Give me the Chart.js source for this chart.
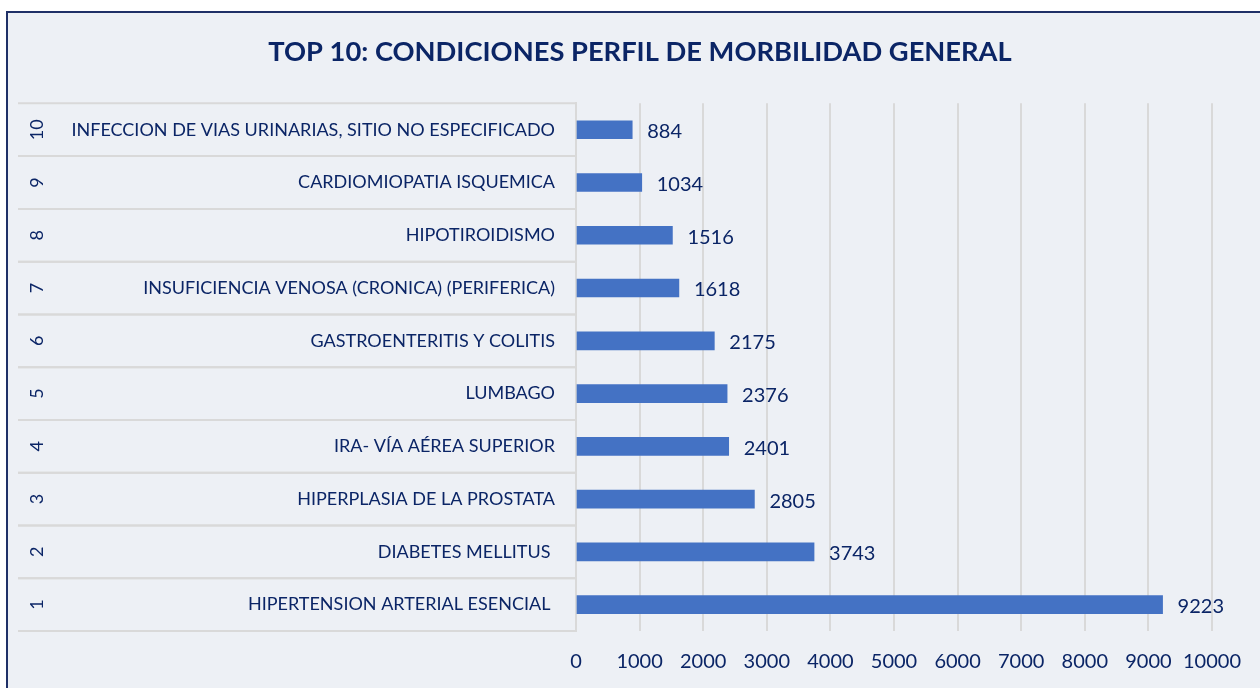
<!DOCTYPE html>
<html>
<head>
<meta charset="utf-8">
<script src="https://cdn.jsdelivr.net/npm/chart.js@4"></script>
<style>
  html, body { margin: 0; padding: 0; background: #fff; }
  #wrap { position: relative; width: 1260px; height: 688px; }
</style>
</head>
<body>
<div id="wrap"><canvas id="chart" width="1260" height="688"></canvas></div>
<script>
// Top 10 conditions, rank 1 at the bottom
const ranks = ['1', '2', '3', '4', '5', '6', '7', '8', '9', '10'];
const conditions = [
    'HIPERTENSION ARTERIAL ESENCIAL ',
    'DIABETES MELLITUS ',
    'HIPERPLASIA DE LA PROSTATA',
    'IRA- VÍA AÉREA SUPERIOR',
    'LUMBAGO',
    'GASTROENTERITIS Y COLITIS',
    'INSUFICIENCIA VENOSA (CRONICA) (PERIFERICA)',
    'HIPOTIROIDISMO',
    'CARDIOMIOPATIA ISQUEMICA',
    'INFECCION DE VIAS URINARIAS, SITIO NO ESPECIFICADO'
];
const cases = [9223, 3743, 2805, 2401, 2376, 2175, 1618, 1516, 1034, 884];

const NAVY = '#0B2566';
const FONT = 'Lato, "Open Sans", sans-serif';

// frame + background
const framePlugin = {
    id: 'frame',
    beforeDraw(chart) {
        const ctx = chart.ctx;
        ctx.save();
        ctx.fillStyle = '#EDF0F5';
        ctx.fillRect(7, 12, chart.width, chart.height);
        ctx.strokeStyle = '#1F3067';
        ctx.lineWidth = 2;
        ctx.strokeRect(7, 12, chart.width + 10, chart.height + 10);
        ctx.restore();
    }
};

// separators in the label area + rotated rank numbers
const rankPlugin = {
    id: 'ranks',
    afterDraw(chart) {
        const ctx = chart.ctx;
        const y = chart.scales.y;
        const left = chart.chartArea.left;
        const step = Math.abs(y.getPixelForValue(1) - y.getPixelForValue(0));
        ctx.save();
        ctx.strokeStyle = '#D9D9D9';
        ctx.lineWidth = 2;
        for (let i = 0; i < ranks.length; i++) {
            const cy = y.getPixelForValue(i);
            [cy - step / 2, cy + step / 2].forEach(ly => {
                ctx.beginPath();
                ctx.moveTo(18, ly);
                ctx.lineTo(left, ly);
                ctx.stroke();
            });
            ctx.save();
            ctx.translate(37, cy);
            ctx.rotate(-Math.PI / 2);
            ctx.fillStyle = NAVY;
            ctx.font = '18px ' + FONT;
            ctx.textAlign = 'center';
            ctx.textBaseline = 'middle';
            ctx.fillText(ranks[i], 0, 0);
            ctx.restore();
        }
        ctx.restore();
    }
};

// value labels at the bar ends
const valuePlugin = {
    id: 'values',
    afterDatasetsDraw(chart) {
        const ctx = chart.ctx;
        const meta = chart.getDatasetMeta(0);
        ctx.save();
        ctx.fillStyle = NAVY;
        ctx.font = '20px ' + FONT;
        ctx.textAlign = 'left';
        ctx.textBaseline = 'middle';
        meta.data.forEach((bar, i) => {
            ctx.fillText(String(cases[i]), bar.x + 15, bar.y + 2);
        });
        ctx.restore();
    }
};

new Chart(document.getElementById('chart').getContext('2d'), {
    type: 'bar',
    data: {
        labels: conditions,
        datasets: [{ data: cases, backgroundColor: '#4472C4', barThickness: 18 }]
    },
    options: {
        indexAxis: 'y',
        responsive: false,
        animation: false,
        layout: { padding: { left: 66, right: 46, top: 0, bottom: 0 } },
        plugins: {
            legend: { display: false },
            tooltip: { enabled: false },
            title: {
                display: true,
                text: 'TOP 10: CONDICIONES PERFIL DE MORBILIDAD GENERAL',
                color: NAVY,
                font: { family: FONT, size: 27.3, weight: 'bold', lineHeight: 1.2 },
                padding: { top: 36, bottom: 34.6 }
            }
        },
        scales: {
            x: {
                min: 0, max: 10000,
                ticks: { stepSize: 1000, color: NAVY, font: { family: FONT, size: 20 }, padding: 19,
                    maxRotation: 0, minRotation: 0, autoSkip: false, callback: v => String(v) },
                grid: { color: '#D9D9D9', lineWidth: 2, drawTicks: false },
                border: { display: false },
                afterFit(scale) { scale.height = 57; }
            },
            y: {
                reverse: true,
                ticks: { color: NAVY, font: { family: FONT, size: 18 }, padding: 21, autoSkip: false },
                grid: { display: false, drawTicks: false },
                border: { display: true, color: '#D9D9D9', width: 2 },
                afterFit(scale) { scale.width = 510; }
            }
        }
    },
    plugins: [framePlugin, rankPlugin, valuePlugin]
});
</script>
</body>
</html>
